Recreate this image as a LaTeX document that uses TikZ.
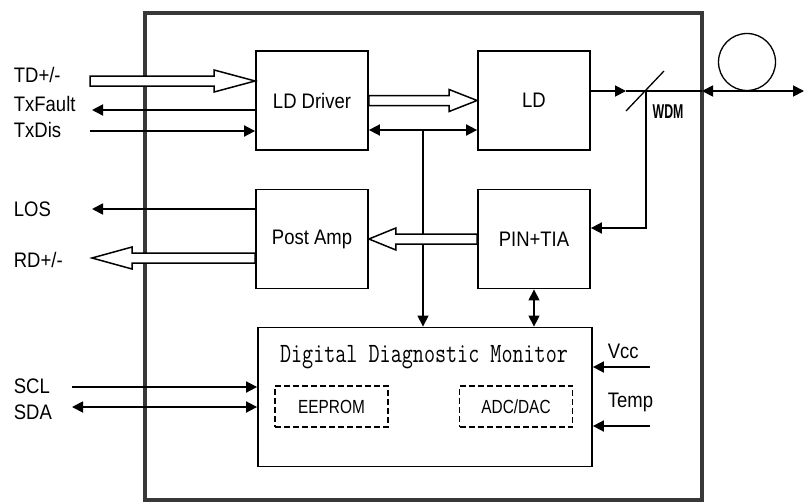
\documentclass[tikz,border=0pt]{standalone}
\usepackage{fontspec}
\usepackage{graphicx}
\setmainfont[FakeStretch=0.88]{Liberation Sans}
\usetikzlibrary{arrows.meta,calc}

% open (hollow) bus arrow between two points on one row: [head length]{tail}{tip}
\newcommand{\hollowarrow}[3][28]{%
  \draw[line width=1.5pt, fill=white] let \p1=(#2), \p2=(#3), \n1={sign(\x1-\x2)*#1} in
    ({\x1},{\y1+5pt}) -- ({\x2+\n1*1pt},{\y1+5pt}) -- ({\x2+\n1*1pt},{\y1+11pt}) -- ({\x2},{\y1})
    -- ({\x2+\n1*1pt},{\y1-11pt}) -- ({\x2+\n1*1pt},{\y1-5pt}) -- ({\x1},{\y1-5pt}) -- cycle;}

\begin{document}
\begin{tikzpicture}[x=1pt, y=-1pt, line width=1.8pt,
  every node/.style={font=\fontsize{21}{22}\selectfont},
  blk/.style={draw, minimum width=112pt, minimum height=99pt, inner sep=0pt},
  dbox/.style={draw, dash pattern=on 6pt off 3pt, minimum width=113pt, minimum height=41pt, inner sep=0pt,
    font=\fontsize{19}{20}\selectfont},
  lbl/.style={anchor=west, inner sep=0pt},
  arr/.style={-{Triangle[length=11pt,width=11pt]}},
  darr/.style={{Triangle[length=11pt,width=11pt]}-{Triangle[length=11pt,width=11pt]}}]
\useasboundingbox (0,0) rectangle (805,503);
% module housing
\draw[line width=4.5pt, draw=black!78] (145,13) rectangle (702,500);

% blocks
\node[blk] (drv) at (312,100.5) {LD Driver};
\node[blk] (ld) at (534,100.5) {LD};
\node[blk] (amp) at (312,239) {Post Amp};
\node[blk] (pin) at (534,239) {PIN+TIA};
\node[draw, minimum width=334pt, minimum height=139pt] (ddm) at (425,397) {};
\node[font=\fontsize{21.5}{22}\selectfont\ttfamily, yscale=1.3] (ddmt) at (424,357) {Digital Diagnostic Monitor};
\node[dbox] (eep) at (331.5,406.5) {\scalebox{0.92}[1]{EEPROM}};
\node[dbox] (adc) at (516,406.5) {\scalebox{0.92}[1]{ADC/DAC}};

% pin labels
\node[lbl] (lTD) at (13,75) {TD+/-};
\node[lbl] (lTxF) at (13,104) {TxFault};
\node[lbl] (lTxD) at (13,130) {TxDis};
\node[lbl] (lLOS) at (13,209) {LOS};
\node[lbl] (lRD) at (13,260) {RD+/-};
\node[lbl] (lSCL) at (13,386) {SCL};
\node[lbl] (lSDA) at (13,412) {SDA};
\node[lbl] (lVcc) at (607,351) {Vcc};
\node[lbl] (lTemp) at (607,402) {Temp};

% transmit path
\coordinate (tdin) at (90,81);
\hollowarrow[41]{tdin}{tdin -| drv.west}
\coordinate (txf) at (92,110);
\draw[arr] (txf -| drv.west) -- (txf);
\coordinate (txd) at (90,131);
\draw[arr] (txd) -- (txd -| drv.west);
\hollowarrow{drv.east}{ld.west}
\coordinate (bus) at (423,130);
\draw[darr] (bus -| drv.east) -- (bus -| ld.west);
\draw[arr, line width=1.3pt] (bus) -- (bus |- ddm.north);

% receive path
\hollowarrow[27]{pin.west}{amp.east}
\coordinate (los) at (92,209);
\draw[arr] (los -| amp.west) -- (los);
\coordinate (rdout) at (92,258);
\hollowarrow[40]{rdout -| amp.west}{rdout}

% optics
\coordinate (wdm) at (646,91);
\coordinate (wdmin) at (626,91);
\coordinate (port) at (702,91);
\coordinate (fiber) at (804,91);
\draw[arr] (wdmin -| ld.east) -- (wdmin);
\draw (wdmin) -- (port);
\draw[line width=1.3pt] ($(wdm)+(-20,20)$) -- ($(wdm)+(18,-20)$);
\node[lbl, font=\fontsize{20}{20}\selectfont\bfseries, xscale=0.7] (lWDM) at (652,112) {WDM};
\draw[arr] (wdm) |- ([yshift=11pt]pin.east);
\draw[darr] (port) -- (fiber);
\node[draw, circle, minimum size=57pt, inner sep=0pt, line width=1.3pt] (coil) at (747,62) {};

% monitor links
\draw[darr, line width=1.3pt] (pin.south) -- (pin.south |- ddm.north);
\coordinate (scl) at (72,387);
\draw[arr] (scl) -- (scl -| ddm.west);
\coordinate (sda) at (72,407);
\draw[darr] (sda) -- (sda -| ddm.west);
\coordinate (vcc) at (650,367);
\draw[arr] (vcc) -- (vcc -| ddm.east);
\coordinate (temp) at (650,426);
\draw[arr] (temp) -- (temp -| ddm.east);
\end{tikzpicture}
\end{document}
